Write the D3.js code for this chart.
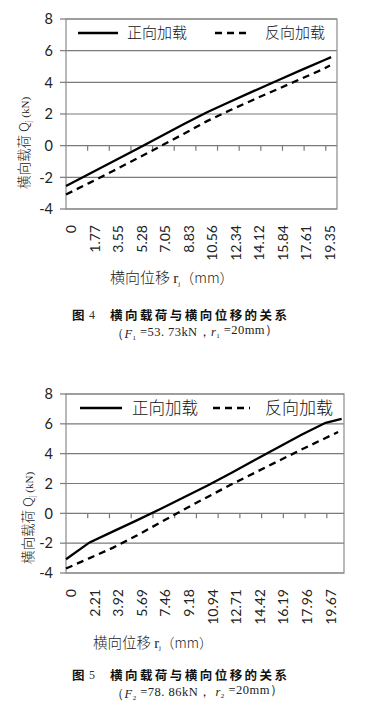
<!DOCTYPE html>
<html><head><meta charset="utf-8">
<script src="https://cdn.jsdelivr.net/npm/d3@7"></script>
<style>body{margin:0;background:#fff}</style>
</head><body>
<svg id="c" width="370" height="720"></svg>
<script>
// ---------- data ----------
const yTicks = [-4, -2, 0, 2, 4, 6, 8];
const legendNames = ["正向加载", "反向加载"];

const xLabels1 = ["0","1.77","3.55","5.28","7.05","8.83","10.56","12.34","14.12","15.84","17.61","19.35"];
const solid1X  = [0,1,2,3,4,5,6,7,8,9,10,11,11.28];
const solid1   = [-2.55,-1.77,-1.0,-0.22,0.56,1.35,2.11,2.79,3.46,4.12,4.77,5.41,5.59];
const dashed1X = [0,1,2,3,4,5,6,7,8,9,10,11,11.23];
const dashed1  = [-3.08,-2.35,-1.6,-0.83,-0.05,0.74,1.55,2.25,2.92,3.57,4.22,4.88,5.06];

const xLabels2 = ["0","2.21","3.92","5.69","7.46","9.18","10.94","12.71","14.42","16.19","17.96","19.67"];
const solid2X  = [0,1,2,3,4,5,6,7,8,9,10,11,11.68];
const solid2   = [-3.08,-1.95,-1.21,-0.47,0.29,1.08,1.87,2.71,3.57,4.43,5.29,6.07,6.33];
const dashed2X = [0,1,2,3,4,5,6,7,8,9,10,11,11.53];
const dashed2  = [-3.7,-3.0,-2.3,-1.49,-0.61,0.26,1.1,1.93,2.72,3.51,4.29,5.05,5.45];

const captions1 = ["图", "4", "横向载荷与横向位移的关系"];
const captions2 = ["图", "5", "横向载荷与横向位移的关系"];
const params1 = {F: "53. 73kN，", sub: "1", r: "20mm）"};
const params2 = {F: "78. 86kN， ", sub: "2", r: "20mm）"};

// ---------- drawing ----------
const svg = d3.select("#c");
const NUM = "Lato, 'Open Sans', sans-serif";
const CJK = "'Noto Sans CJK SC', sans-serif";
const SERIF = "'Liberation Serif', 'DejaVu Serif', serif";

function drawChart(o) {
  const g = svg.append("g");
  const x = d3.scaleLinear().domain([0, o.xMax]).range([o.left, o.right]);
  const y = d3.scaleLinear().domain([-4, 8]).range([o.bottom, o.top]);

  g.selectAll("line.grid").data(yTicks).join("line")
    .attr("x1", o.left).attr("x2", o.right)
    .attr("y1", d => y(d)).attr("y2", d => y(d))
    .attr("stroke", "#7a7a7a").attr("stroke-width", 1.2);
  g.append("rect").attr("x", o.left).attr("y", y(8))
    .attr("width", o.right - o.left).attr("height", y(-4) - y(8))
    .attr("fill", "none").attr("stroke", "#8a8a8a").attr("stroke-width", 1.2);
  g.selectAll("line.yt").data(yTicks).join("line")
    .attr("x1", o.left - 6).attr("x2", o.left)
    .attr("y1", d => y(d)).attr("y2", d => y(d))
    .attr("stroke", "#7a7a7a").attr("stroke-width", 1.2);
  g.selectAll("text.yl").data(yTicks).join("text")
    .attr("x", o.left - 13).attr("y", d => y(d)).attr("dy", "0.36em")
    .attr("text-anchor", "end").attr("font-family", NUM).attr("font-size", 14.5)
    .attr("fill", "#222").text(d => d);
  const tickIdx = d3.range(1, 13).map(k => k * o.tickStep);
  g.selectAll("line.xt").data(tickIdx).join("line")
    .attr("x1", d => x(d)).attr("x2", d => x(d))
    .attr("y1", y(0)).attr("y2", y(0) + 5)
    .attr("stroke", "#7a7a7a").attr("stroke-width", 1.2);
  g.selectAll("text.xl").data(o.xLabels).join("text")
    .attr("transform", (d, i) => `translate(${x(i) + 5},${o.xLabelTop}) rotate(-90)`)
    .attr("dy", "0.36em").attr("text-anchor", "end")
    .attr("font-family", NUM).attr("font-size", 14).attr("fill", "#222")
    .text(d => d);

  const line = d3.line().x(d => x(d[0])).y(d => y(d[1]));
  g.append("path").datum(o.solidX.map((v, i) => [v, o.solid[i]]))
    .attr("d", line).attr("fill", "none").attr("stroke", "#000").attr("stroke-width", 2.3);
  g.append("path").datum(o.dashedX.map((v, i) => [v, o.dashed[i]]))
    .attr("d", line).attr("fill", "none").attr("stroke", "#000").attr("stroke-width", 2.3)
    .attr("stroke-dasharray", "7,5");

  const L = o.legend;
  g.append("line").attr("x1", L.s0).attr("x2", L.s1).attr("y1", L.y).attr("y2", L.y)
    .attr("stroke", "#000").attr("stroke-width", 2.3);
  g.append("line").attr("x1", L.d0).attr("x2", L.d1).attr("y1", L.y).attr("y2", L.y)
    .attr("stroke", "#000").attr("stroke-width", 2.3).attr("stroke-dasharray", "7,5");
  [[L.t0, legendNames[0], L.w0], [L.t1, legendNames[1], L.w1]].forEach(([tx, name, w]) => {
    g.append("text").attr("x", tx).attr("y", L.y).attr("dy", "0.36em")
      .attr("font-family", CJK).attr("font-weight", 300).attr("font-size", L.fs)
      .attr("textLength", w).attr("lengthAdjust", "spacingAndGlyphs")
      .attr("fill", "#111").text(name);
  });

  const yt = g.append("text")
    .attr("transform", `translate(${o.yTitle.x},${o.yTitle.y}) rotate(-90)`)
    .attr("text-anchor", "middle").attr("dy", "0.36em")
    .attr("font-family", CJK).attr("font-weight", 300).attr("font-size", 13.5).attr("fill", "#222");
  yt.append("tspan").text("横向载荷 Q");
  yt.append("tspan").attr("font-size", 7).attr("dy", "0.3em").text("j");
  yt.append("tspan").attr("font-size", 11).attr("dy", "-0.2em").attr("font-family", SERIF).text(" (kN)");

  const xt = g.append("text").attr("x", o.xTitle.x).attr("y", o.xTitle.y).attr("dy", "0.36em")
    .attr("font-family", CJK).attr("font-weight", 300).attr("font-size", o.xTitle.fs).attr("fill", "#222");
  xt.append("tspan").text("横向位移 ");
  xt.append("tspan").attr("font-family", SERIF).text("r");
  xt.append("tspan").attr("font-size", 7).attr("dy", "0.3em").attr("font-family", SERIF).text("j");
  xt.append("tspan").attr("dy", "-0.2em").attr("font-size", o.xTitle.fs - 1).text("（mm）");

  const C = o.cap;
  g.append("text").attr("x", 72).attr("y", C.y1).attr("dy", "0.36em")
    .attr("font-family", CJK).attr("font-weight", 700).attr("font-size", 12.5)
    .attr("fill", "#111").text(o.captions[0]);
  g.append("text").attr("x", 89).attr("y", C.y1).attr("dy", "0.36em")
    .attr("font-family", SERIF).attr("font-size", 12).attr("fill", "#333").text(o.captions[1]);
  g.append("text").attr("x", 110).attr("y", C.y1).attr("dy", "0.36em")
    .attr("font-family", CJK).attr("font-weight", 700).attr("font-size", 12.5)
    .attr("textLength", 177).attr("lengthAdjust", "spacing")
    .attr("fill", "#111").text(o.captions[2]);

  const c2 = g.append("text").attr("x", 111).attr("y", C.y2).attr("dy", "0.36em")
    .attr("font-family", SERIF).attr("font-size", 12.5).attr("fill", "#222");
  c2.append("tspan").text("（");
  c2.append("tspan").attr("font-style", "italic").text("F");
  c2.append("tspan").attr("font-size", 7).attr("dy", "0.3em").text(o.params.sub);
  c2.append("tspan").attr("dy", "-0.3em").text(" =" + o.params.F);
  c2.append("tspan").attr("font-style", "italic").text("r");
  c2.append("tspan").attr("font-size", 7).attr("dy", "0.3em").text(o.params.sub);
  c2.append("tspan").attr("dy", "-0.3em").text(" =" + o.params.r);
  c2.attr("textLength", C.w2).attr("lengthAdjust", "spacing");
}

drawChart({
  left: 66, right: 337, top: 19, bottom: 209, xMax: 11.53, tickStep: 0.921,
  xLabels: xLabels1, xLabelTop: 225,
  solidX: solid1X, solid: solid1, dashedX: dashed1X, dashed: dashed1,
  legend: {y: 33, s0: 78, s1: 118, t0: 127, w0: 60, d0: 215, d1: 251, t1: 265, w1: 60, fs: 15},
  yTitle: {x: 24, y: 143}, xTitle: {x: 110, y: 278, fs: 15},
  captions: captions1, params: params1, cap: {y1: 315, y2: 333, w2: 167}
});
drawChart({
  left: 66, right: 344, top: 394, bottom: 573, xMax: 11.78, tickStep: 0.921,
  xLabels: xLabels2, xLabelTop: 589,
  solidX: solid2X, solid: solid2, dashedX: dashed2X, dashed: dashed2,
  legend: {y: 408, s0: 80, s1: 122, t0: 132, w0: 66, d0: 213, d1: 250, t1: 265, w1: 68, fs: 16.5},
  yTitle: {x: 28, y: 518}, xTitle: {x: 93, y: 643, fs: 14.5},
  captions: captions2, params: params2, cap: {y1: 675, y2: 693, w2: 172}
});
</script>
</body></html>
